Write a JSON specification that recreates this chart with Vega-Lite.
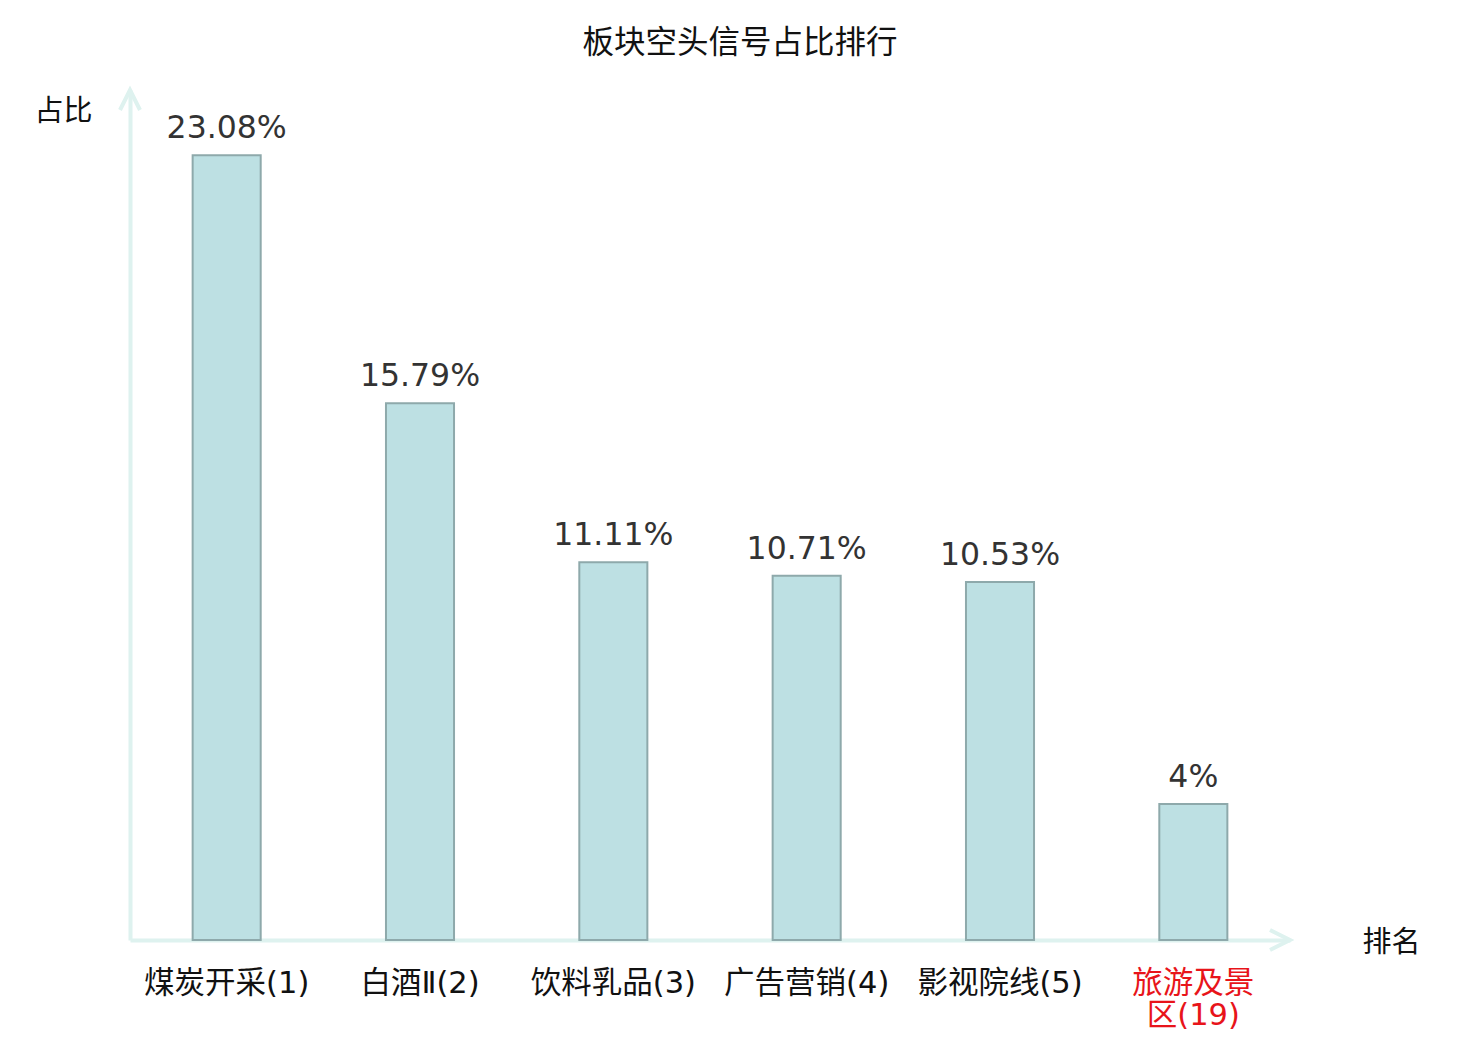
{
  "$schema": "https://vega.github.io/schema/vega-lite/v6.json",
  "width": 1160,
  "height": 850,
  "autosize": {"type": "none"},
  "padding": {"left": 130, "top": 90, "right": 190, "bottom": 100},
  "background": "white",
  "config": {"view": {"stroke": null}, "font": "DejaVu Sans, Noto Sans CJK SC"},
  "title": {
    "text": "板块空头信号占比排行",
    "fontSize": 31.5,
    "font": "Noto Sans CJK SC",
    "fontWeight": "normal",
    "color": "#111",
    "anchor": "middle",
    "dx": 30,
    "offset": 23
  },
  "layer": [
    {
      "data": {
        "values": [
          {"板块": "煤炭开采(1)", "占比": 23.08, "标签": "23.08%"},
          {"板块": "白酒Ⅱ(2)", "占比": 15.79, "标签": "15.79%"},
          {"板块": "饮料乳品(3)", "占比": 11.11, "标签": "11.11%"},
          {"板块": "广告营销(4)", "占比": 10.71, "标签": "10.71%"},
          {"板块": "影视院线(5)", "占比": 10.53, "标签": "10.53%"},
          {"板块": "旅游及景区(19)", "占比": 4, "标签": "4%"}
        ]
      },
      "encoding": {
        "x": {
          "field": "板块",
          "type": "nominal",
          "sort": null,
          "scale": {"paddingInner": 0.648, "paddingOuter": 0.324},
          "axis": {
            "title": "排名",
            "titleFont": "Noto Sans CJK SC",
            "titleFontSize": 29,
            "titleFontWeight": "normal",
            "titleColor": "#111",
            "titleX": 1261,
            "titleY": 2,
            "titleAlign": "center",
            "titleBaseline": "middle",
            "labelAngle": 0,
            "labelFontSize": 30.5,
            "labelColor": {"expr": "datum.value == '旅游及景区(19)' ? '#e8141a' : '#111'"},
            "labelExpr": "datum.value == '旅游及景区(19)' ? ['旅游及景', '区(19)'] : datum.value",
            "labelLineHeight": 32,
            "labelPadding": 43,
            "labelBaseline": "middle",
            "labelOverlap": false,
            "labelLimit": 300,
            "ticks": false,
            "domainColor": "#def2ef",
            "domainWidth": 4
          }
        },
        "y": {
          "field": "占比",
          "type": "quantitative",
          "scale": {"domain": [0, 25], "nice": false},
          "axis": {
            "title": "占比",
            "titleFont": "Noto Sans CJK SC",
            "titleAngle": 0,
            "titleFontSize": 29,
            "titleFontWeight": "normal",
            "titleColor": "#111",
            "titleX": -67,
            "titleY": 21,
            "titleAlign": "center",
            "titleBaseline": "middle",
            "labels": false,
            "ticks": false,
            "grid": false,
            "domainColor": "#def2ef",
            "domainWidth": 4
          }
        }
      },
      "layer": [
        {
          "mark": {"type": "bar", "fill": "#bde0e3", "stroke": "#8ea9ab", "strokeWidth": 2}
        },
        {
          "mark": {"type": "text", "baseline": "alphabetic", "dy": -17, "fontSize": 31.5, "color": "#333", "font": "DejaVu Sans"},
          "encoding": {"text": {"field": "标签"}}
        }
      ]
    },
    {
      "data": {
        "values": [
          {"位置": 0, "值": 25, "形状": "M-0.5,1L0,0L0.5,1"},
          {"位置": 1, "值": 0, "形状": "M-1,-0.5L0,0L-1,0.5"}
        ]
      },
      "mark": {"type": "point", "filled": false, "stroke": "#def2ef", "strokeWidth": 4, "size": 1600, "opacity": 1},
      "encoding": {
        "x": {"field": "位置", "type": "quantitative", "scale": {"domain": [0, 1], "nice": false}, "axis": null},
        "y": {"field": "值", "type": "quantitative"},
        "shape": {"field": "形状", "type": "nominal", "scale": null, "legend": null}
      }
    }
  ],
  "resolve": {"scale": {"x": "independent"}}
}
